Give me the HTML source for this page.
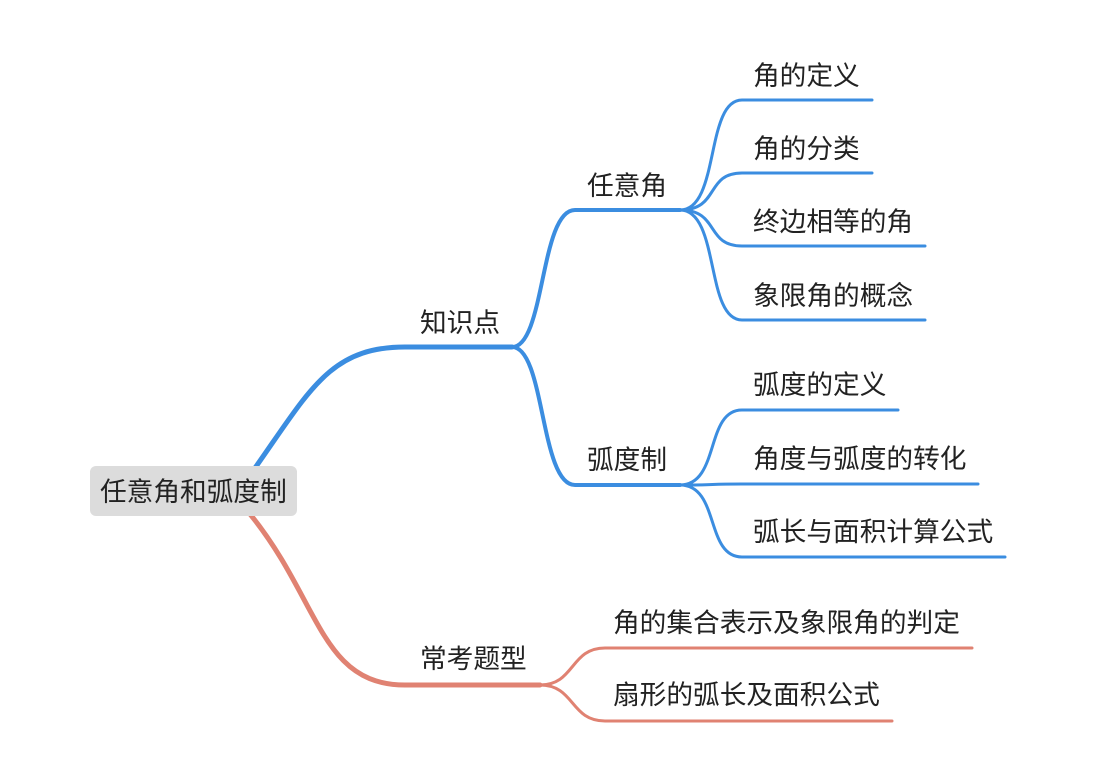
<!DOCTYPE html>
<html><head><meta charset="utf-8"><style>
body{margin:0;background:#fff;}
svg text{font-family:"Liberation Sans","Noto Sans CJK SC",sans-serif;font-size:26.7px;fill:#222;}
</style></head><body>
<svg width="1094" height="772" viewBox="0 0 1094 772" xmlns="http://www.w3.org/2000/svg">
<g fill="none" stroke-linecap="round">
<path d="M255,468 C310,390 330,347 405,347 L512,347" stroke="#3b8de0" stroke-width="5"/>
<path d="M250,514 C320,600 320,685 405,685 L540,685" stroke="#e08272" stroke-width="5"/>
<path d="M512,347 C545,347 540,210 575,210 L680,210" stroke="#3b8de0" stroke-width="4"/>
<path d="M512,347 C545,347 540,485 575,485 L680,485" stroke="#3b8de0" stroke-width="4"/>
<g stroke="#3b8de0" stroke-width="3">
<path d="M680,210 C720,210 705,100 742,100 L872,100"/>
<path d="M680,210 C720,210 705,173 742,173 L872,173"/>
<path d="M680,210 C720,210 705,246 742,246 L925,246"/>
<path d="M680,210 C720,210 705,320 742,320 L925,320"/>
<path d="M680,485 C720,485 705,410 742,410 L898,410"/>
<path d="M680,485 C720,485 705,484 742,484 L978,484"/>
<path d="M680,485 C720,485 705,557 742,557 L1005,557"/>
</g>
<g stroke="#e08272" stroke-width="3">
<path d="M540,685 C575,685 570,648 605,648 L972,648"/>
<path d="M540,685 C575,685 570,721 605,721 L892,721"/>
</g>
</g>
<rect x="90" y="466" width="207" height="50" rx="6" fill="#dcdcdc"/>
<text x="100" y="501">任意角和弧度制</text>
<text x="420" y="332">知识点</text>
<text x="420" y="668">常考题型</text>
<text x="587" y="195">任意角</text>
<text x="587" y="469">弧度制</text>
<text x="753" y="85">角的定义</text>
<text x="753" y="158">角的分类</text>
<text x="753" y="231">终边相等的角</text>
<text x="753" y="305">象限角的概念</text>
<text x="753" y="394">弧度的定义</text>
<text x="753" y="468">角度与弧度的转化</text>
<text x="753" y="541">弧长与面积计算公式</text>
<text x="613" y="632">角的集合表示及象限角的判定</text>
<text x="613" y="704">扇形的弧长及面积公式</text>
</svg>
</body></html>
